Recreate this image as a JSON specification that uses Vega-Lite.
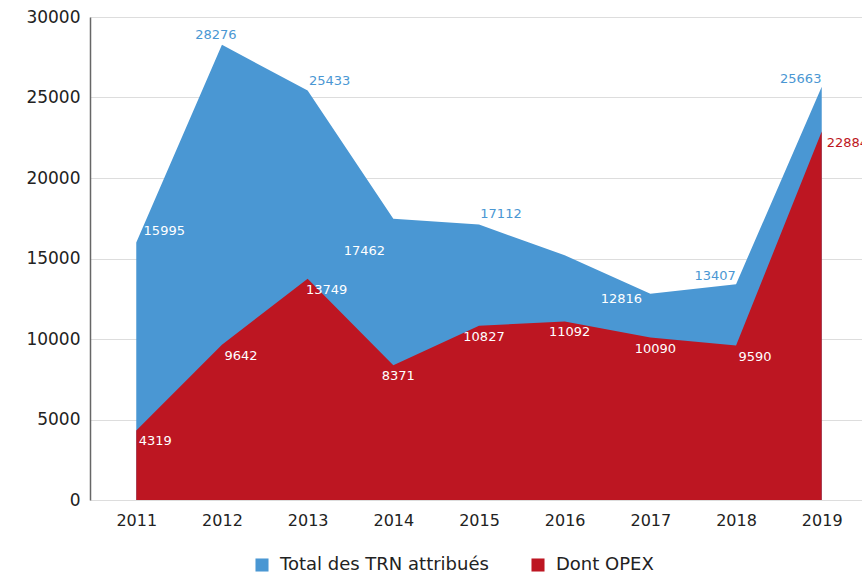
{
  "$schema": "https://vega.github.io/schema/vega-lite/v6.json",
  "autosize": {"type": "none"},
  "padding": {"left": 90, "top": 17, "right": 0, "bottom": 78},
  "width": 778,
  "height": 483,
  "background": "white",
  "config": {
    "font": "DejaVu Sans",
    "view": {"stroke": null}
  },
  "data": {
    "values": [
      {"year": "2011", "series": "Total des TRN attribués", "value": 15995},
      {"year": "2012", "series": "Total des TRN attribués", "value": 28276},
      {"year": "2013", "series": "Total des TRN attribués", "value": 25433},
      {"year": "2014", "series": "Total des TRN attribués", "value": 17462},
      {"year": "2015", "series": "Total des TRN attribués", "value": 17112},
      {"year": "2016", "series": "Total des TRN attribués", "value": 15200},
      {"year": "2017", "series": "Total des TRN attribués", "value": 12816},
      {"year": "2018", "series": "Total des TRN attribués", "value": 13407},
      {"year": "2019", "series": "Total des TRN attribués", "value": 25663},
      {"year": "2011", "series": "Dont OPEX", "value": 4319},
      {"year": "2012", "series": "Dont OPEX", "value": 9642},
      {"year": "2013", "series": "Dont OPEX", "value": 13749},
      {"year": "2014", "series": "Dont OPEX", "value": 8371},
      {"year": "2015", "series": "Dont OPEX", "value": 10827},
      {"year": "2016", "series": "Dont OPEX", "value": 11092},
      {"year": "2017", "series": "Dont OPEX", "value": 10090},
      {"year": "2018", "series": "Dont OPEX", "value": 9590},
      {"year": "2019", "series": "Dont OPEX", "value": 22884}
    ]
  },
  "encoding": {
    "x": {
      "field": "year", "type": "ordinal",
      "scale": {"type": "point", "padding": 0.54},
      "axis": {"title": null, "labelAngle": 0, "domain": false, "ticks": false, "grid": false,
               "labelFontSize": 16, "labelColor": "#222", "labelPadding": 12}
    },
    "y": {
      "field": "value", "type": "quantitative",
      "scale": {"domain": [0, 30000], "nice": false},
      "axis": {"title": null, "values": [0, 5000, 10000, 15000, 20000, 25000, 30000], "format": "d",
               "ticks": false, "labelPadding": 10, "labelFontSize": 17, "labelColor": "#222",
               "domainColor": "#666", "domainWidth": 1.5, "gridColor": "#dddddd", "gridWidth": 1.2}
    }
  },
  "layer": [
    {
      "transform": [{"filter": "datum.series === 'Total des TRN attribués'"}],
      "mark": {"type": "area", "opacity": 1},
      "encoding": {
        "y": {"field": "value", "type": "quantitative", "stack": null},
        "color": {
          "field": "series", "type": "nominal",
          "scale": {"domain": ["Total des TRN attribués", "Dont OPEX"], "range": ["#4A97D3", "#BD1622"]},
          "legend": {"title": null, "orient": "none", "legendX": 163, "legendY": 539, "direction": "horizontal",
                     "symbolType": "square", "symbolSize": 170, "symbolStrokeWidth": 0, "symbolOpacity": 1,
                     "labelFontSize": 18, "labelColor": "#222", "columnPadding": 40, "labelOffset": 9, "labelLimit": 400}
        }
      }
    },
    {
      "transform": [{"filter": "datum.series === 'Dont OPEX'"}],
      "mark": {"type": "area", "opacity": 1},
      "encoding": {
        "y": {"field": "value", "type": "quantitative", "stack": null},
        "color": {"field": "series", "type": "nominal"}
      }
    },
    {
      "transform": [{"filter": "datum.series === 'Total des TRN attribués' && indexof(['2012'], datum.year) >= 0"}],
      "mark": {"type": "text", "fontSize": 13, "color": "#4A97D3", "dy": -10, "dx": -6},
      "encoding": {"text": {"field": "value", "type": "quantitative", "format": "d"}}
    },
    {
      "transform": [{"filter": "datum.series === 'Total des TRN attribués' && indexof(['2013','2015'], datum.year) >= 0"}],
      "mark": {"type": "text", "fontSize": 13, "color": "#4A97D3", "dy": -10, "dx": 22},
      "encoding": {"text": {"field": "value", "type": "quantitative", "format": "d"}}
    },
    {
      "transform": [{"filter": "datum.series === 'Total des TRN attribués' && indexof(['2018','2019'], datum.year) >= 0"}],
      "mark": {"type": "text", "fontSize": 13, "color": "#4A97D3", "dy": -8, "dx": -21},
      "encoding": {"text": {"field": "value", "type": "quantitative", "format": "d"}}
    },
    {
      "transform": [{"filter": "datum.series === 'Total des TRN attribués' && datum.year === '2011'"}],
      "mark": {"type": "text", "fontSize": 13, "color": "white", "dy": -11, "dx": 28},
      "encoding": {"text": {"field": "value", "type": "quantitative", "format": "d"}}
    },
    {
      "transform": [{"filter": "datum.series === 'Total des TRN attribués' && datum.year === '2014'"}],
      "mark": {"type": "text", "fontSize": 13, "color": "white", "dy": 32, "dx": -29},
      "encoding": {"text": {"field": "value", "type": "quantitative", "format": "d"}}
    },
    {
      "transform": [{"filter": "datum.series === 'Total des TRN attribués' && datum.year === '2017'"}],
      "mark": {"type": "text", "fontSize": 13, "color": "white", "dy": 5, "dx": -29},
      "encoding": {"text": {"field": "value", "type": "quantitative", "format": "d"}}
    },
    {
      "transform": [{"filter": "datum.series === 'Dont OPEX' && indexof(['2011','2012','2013','2018'], datum.year) >= 0"}],
      "mark": {"type": "text", "fontSize": 13, "color": "white", "dy": 11, "dx": 19},
      "encoding": {"text": {"field": "value", "type": "quantitative", "format": "d"}}
    },
    {
      "transform": [{"filter": "datum.series === 'Dont OPEX' && indexof(['2014','2015','2016','2017'], datum.year) >= 0"}],
      "mark": {"type": "text", "fontSize": 13, "color": "white", "dy": 11, "dx": 5},
      "encoding": {"text": {"field": "value", "type": "quantitative", "format": "d"}}
    },
    {
      "transform": [{"filter": "datum.series === 'Dont OPEX' && datum.year === '2019'"}],
      "mark": {"type": "text", "fontSize": 13, "color": "#BD1622", "dy": 11, "dx": 5, "align": "left"},
      "encoding": {"text": {"field": "value", "type": "quantitative", "format": "d"}}
    }
  ]
}
